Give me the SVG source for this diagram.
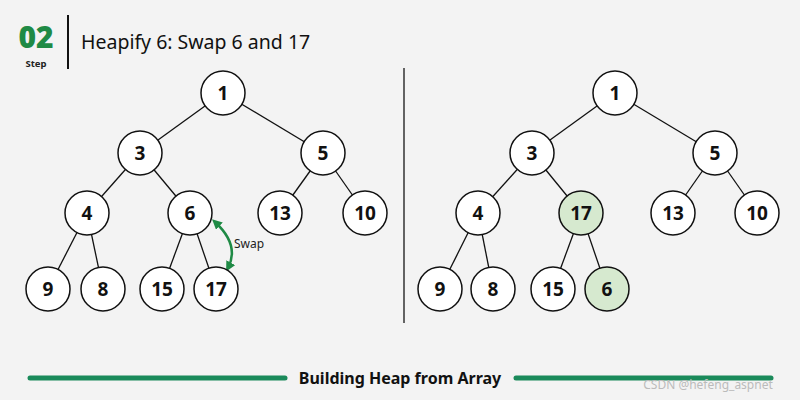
<svg xmlns="http://www.w3.org/2000/svg" width="800" height="400" viewBox="0 0 800 400">
<defs>
<style>
.n circle{fill:#fff;stroke:#111;stroke-width:1.5}
.n.g circle{fill:#d6e9cf}
.n text{font-family:"Noto Sans","Open Sans",sans-serif;font-weight:bold;font-size:19px;fill:#111;text-anchor:middle;dominant-baseline:central}
#edges line{stroke:#111;stroke-width:1.3}
</style>
<marker id="ah" viewBox="0 0 10 10" refX="6" refY="5" markerWidth="4" markerHeight="4" orient="auto-start-reverse"><path d="M0,0 L10,5 L0,10 z" fill="#1f8a45"/></marker>
</defs>
<rect width="800" height="400" fill="#f3f3f3"/>
<text x="36" y="48" font-family="Noto Sans,sans-serif" font-weight="900" font-size="30" fill="#1f8a45" text-anchor="middle">02</text>
<text x="36" y="67" font-family="Noto Sans,sans-serif" font-weight="bold" font-size="9.5" fill="#222" text-anchor="middle">Step</text>
<line x1="68" y1="15" x2="68" y2="69" stroke="#111" stroke-width="2"/>
<text x="81" y="49" font-family="Noto Sans,sans-serif" font-size="19.5" fill="#111">Heapify 6: Swap 6 and 17</text>
<line x1="404" y1="68" x2="404" y2="323" stroke="#333" stroke-width="1.5"/>
<g id="edges">
<line x1="223" y1="93" x2="140" y2="153"/><line x1="223" y1="93" x2="323" y2="153"/>
<line x1="140" y1="153" x2="87" y2="213"/><line x1="140" y1="153" x2="190" y2="213"/>
<line x1="323" y1="153" x2="280" y2="213"/><line x1="323" y1="153" x2="365" y2="213"/>
<line x1="87" y1="213" x2="48" y2="289"/><line x1="87" y1="213" x2="103" y2="289"/>
<line x1="190" y1="213" x2="162" y2="289"/><line x1="190" y1="213" x2="216" y2="289"/>
<line x1="615" y1="93" x2="532" y2="153"/><line x1="615" y1="93" x2="715" y2="153"/>
<line x1="532" y1="153" x2="478" y2="213"/><line x1="532" y1="153" x2="581" y2="213"/>
<line x1="715" y1="153" x2="673" y2="213"/><line x1="715" y1="153" x2="757" y2="213"/>
<line x1="478" y1="213" x2="440" y2="289"/><line x1="478" y1="213" x2="493" y2="289"/>
<line x1="581" y1="213" x2="553" y2="289"/><line x1="581" y1="213" x2="607" y2="289"/>
<path d="M215,222 Q240,245 228,268" fill="none" stroke="#1f8a45" stroke-width="2.5" marker-start="url(#ah)" marker-end="url(#ah)"/>
</g>
<text x="234" y="248" font-family="Noto Sans,sans-serif" font-size="12" fill="#222">Swap</text>
<g id="L1" class="n"><circle cx="223" cy="93" r="22"/><text x="223" y="93">1</text></g>
<g id="L3" class="n"><circle cx="140" cy="153" r="22"/><text x="140" y="153">3</text></g>
<g id="L5" class="n"><circle cx="323" cy="153" r="22"/><text x="323" y="153">5</text></g>
<g id="L4" class="n"><circle cx="87" cy="213" r="22"/><text x="87" y="213">4</text></g>
<g id="L6" class="n"><circle cx="190" cy="213" r="22"/><text x="190" y="213">6</text></g>
<g id="L13" class="n"><circle cx="280" cy="213" r="22"/><text x="280" y="213">13</text></g>
<g id="L10" class="n"><circle cx="365" cy="213" r="22"/><text x="365" y="213">10</text></g>
<g id="L9" class="n"><circle cx="48" cy="289" r="22"/><text x="48" y="289">9</text></g>
<g id="L8" class="n"><circle cx="103" cy="289" r="22"/><text x="103" y="289">8</text></g>
<g id="L15" class="n"><circle cx="162" cy="289" r="22"/><text x="162" y="289">15</text></g>
<g id="L17" class="n"><circle cx="216" cy="289" r="22"/><text x="216" y="289">17</text></g>
<g id="R1" class="n"><circle cx="615" cy="93" r="22"/><text x="615" y="93">1</text></g>
<g id="R3" class="n"><circle cx="532" cy="153" r="22"/><text x="532" y="153">3</text></g>
<g id="R5" class="n"><circle cx="715" cy="153" r="22"/><text x="715" y="153">5</text></g>
<g id="R4" class="n"><circle cx="478" cy="213" r="22"/><text x="478" y="213">4</text></g>
<g id="R17" class="n g"><circle cx="581" cy="213" r="22"/><text x="581" y="213">17</text></g>
<g id="R13" class="n"><circle cx="673" cy="213" r="22"/><text x="673" y="213">13</text></g>
<g id="R10" class="n"><circle cx="757" cy="213" r="22"/><text x="757" y="213">10</text></g>
<g id="R9" class="n"><circle cx="440" cy="289" r="22"/><text x="440" y="289">9</text></g>
<g id="R8" class="n"><circle cx="493" cy="289" r="22"/><text x="493" y="289">8</text></g>
<g id="R15" class="n"><circle cx="553" cy="289" r="22"/><text x="553" y="289">15</text></g>
<g id="R6" class="n g"><circle cx="607" cy="289" r="22"/><text x="607" y="289">6</text></g>
<line x1="30" y1="378" x2="285" y2="378" stroke="#1a8a5a" stroke-width="5" stroke-linecap="round"/>
<line x1="516" y1="378" x2="771" y2="378" stroke="#1a8a5a" stroke-width="5" stroke-linecap="round"/>
<text x="400" y="384" font-family="Noto Sans,sans-serif" font-weight="bold" font-size="16" fill="#111" text-anchor="middle">Building Heap from Array</text>
<text x="708" y="389" font-family="Noto Sans,sans-serif" font-size="12" fill="#bbb" text-anchor="middle">CSDN @hefeng_aspnet</text>
</svg>
